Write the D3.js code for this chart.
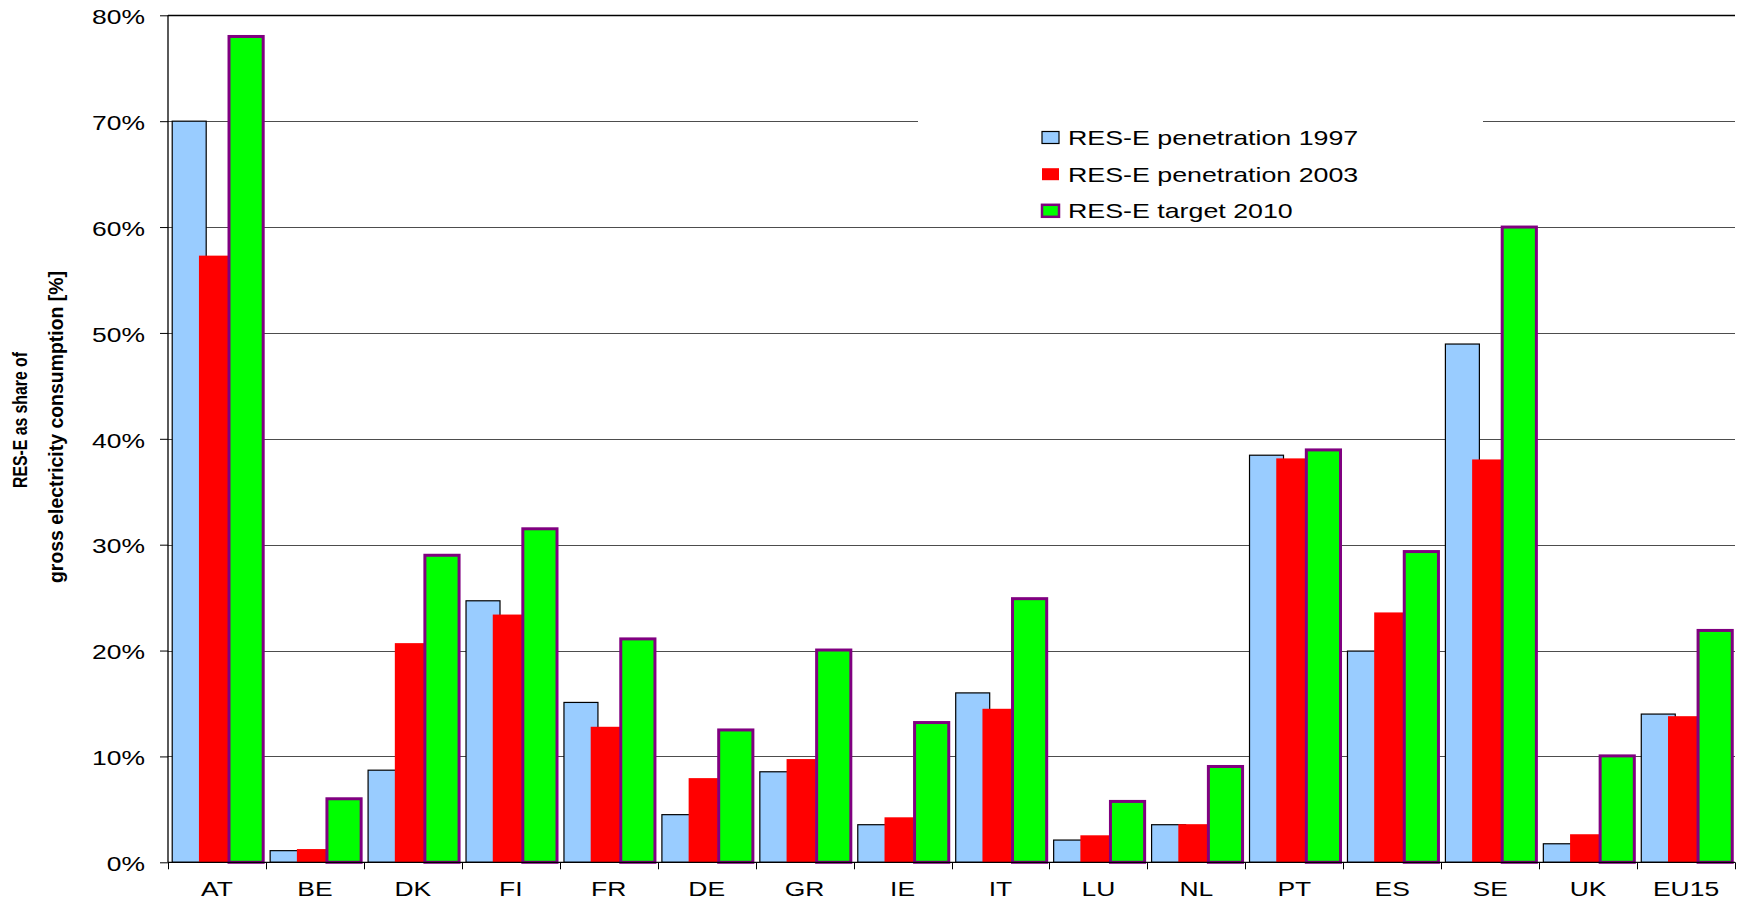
<!DOCTYPE html>
<html>
<head>
<meta charset="utf-8">
<script src="https://cdn.jsdelivr.net/npm/d3@7"></script>
<style>
  html, body { margin: 0; padding: 0; background: #fff; }
  svg { display: block; font-family: "Liberation Sans", Arial, sans-serif; }
</style>
</head>
<body>
<svg id="chart" width="1738" height="903"></svg>
<script>
// ---- data ----
const categories = ["AT","BE","DK","FI","FR","DE","GR","IE","IT","LU","NL","PT","ES","SE","UK","EU15"];
const penetration1997 = [70.0, 1.1, 8.7, 24.7, 15.1, 4.5, 8.55, 3.55, 16.0, 2.1, 3.55, 38.45, 19.95, 48.95, 1.75, 14.0];
const penetration2003 = [57.3, 1.25, 20.7, 23.4, 12.8, 7.95, 9.75, 4.25, 14.5, 2.55, 3.6, 38.15, 23.6, 38.05, 2.65, 13.8];
const target2010      = [78.0, 6.0, 29.0, 31.5, 21.1, 12.5, 20.05, 13.2, 24.9, 5.75, 9.05, 38.95, 29.35, 60.0, 10.05, 21.9];
const seriesNames = ["RES-E penetration 1997", "RES-E penetration 2003", "RES-E target 2010"];
const yTicks = [0, 10, 20, 30, 40, 50, 60, 70, 80];
const yTitle = ["RES-E as share of", "gross electricity consumption [%]"];

(function () {
// ---- styles ----
const styles = [
  { fill: "#99ccff", stroke: "#000000", sw: 1.2, x: 0.043, w: 0.347 },
  { fill: "#ff0000", stroke: "none",    sw: 0,   x: 0.316, w: 0.299 },
  { fill: "#00ff00", stroke: "#800080", sw: 3,   x: 0.623, w: 0.349 }
];
const seriesValues = [penetration1997, penetration2003, target2010];
const textStretch = 1.29;

function stretch(sel, k) {
  sel.each(function () {
    const l = this.getComputedTextLength();
    d3.select(this).attr("textLength", l * k).attr("lengthAdjust", "spacingAndGlyphs");
  });
}

const svg = d3.select("#chart");
const pLeft = 168, pRight = 1735, pTop = 15.3, pBottom = 862.3;

const x = d3.scaleBand().domain(categories).range([pLeft, pRight]).padding(0);
const y = d3.scaleLinear().domain([0, 80]).range([pBottom, pTop]);

// gridlines
const grid = svg.append("g");
grid.selectAll("line").data(yTicks.filter(t => t > 0)).join("line")
  .attr("x1", pLeft).attr("x2", pRight)
  .attr("y1", d => Math.round(y(d)) + 0.5).attr("y2", d => Math.round(y(d)) + 0.5)
  .attr("stroke", d => d === 80 ? "#000" : "#4d4d4d")
  .attr("stroke-width", d => d === 80 ? 1.4 : 1.1);

// legend background (covers gridline)
const legendBox = { x: 918, y: 104, w: 565, h: 121 };
svg.append("rect").attr("x", legendBox.x).attr("y", legendBox.y)
  .attr("width", legendBox.w).attr("height", legendBox.h).attr("fill", "#fff");

// bars
const bw = x.bandwidth();
seriesValues.forEach((vals, si) => {
  const st = styles[si];
  svg.append("g").selectAll("rect").data(categories.map((c, i) => ({ c, v: vals[i] }))).join("rect")
    .attr("x", d => x(d.c) + st.x * bw)
    .attr("width", st.w * bw)
    .attr("y", d => y(d.v))
    .attr("height", d => y(0) - y(d.v))
    .attr("fill", st.fill)
    .attr("stroke", st.stroke)
    .attr("stroke-width", st.sw);
});

// y axis
const yAxis = d3.axisLeft(y).tickValues(yTicks).tickSize(8).tickPadding(15)
  .tickFormat(d => d + "%");
const gy = svg.append("g").attr("transform", `translate(${pLeft},0)`).call(yAxis);
gy.select(".domain").attr("stroke", "#000").attr("stroke-width", 1.3).attr("d", `M0,${pTop}V${pBottom}`);
gy.selectAll(".tick line").attr("stroke", "#000");
gy.selectAll(".tick text").attr("font-size", "20.5px").attr("fill", "#000")
  .attr("font-family", "Liberation Sans, Arial, sans-serif").attr("dy", "0.4em")
  .call(stretch, textStretch);

// x axis
const xAxis = d3.axisBottom(x).tickSize(0).tickPadding(22);
const gx = svg.append("g").attr("transform", `translate(0,${pBottom})`).call(xAxis);
gx.select(".domain").attr("stroke", "#000").attr("stroke-width", 1.3).attr("d", `M${pLeft},0H${pRight}`);
gx.selectAll(".tick text").attr("font-size", "20.5px").attr("fill", "#000")
  .attr("font-family", "Liberation Sans, Arial, sans-serif").attr("dy", "0.55em")
  .call(stretch, textStretch);
// category boundary ticks
const bounds = categories.map(c => x(c)).concat([pRight]);
svg.append("g").selectAll("line").data(bounds).join("line")
  .attr("x1", d => Math.round(d) + 0.5).attr("x2", d => Math.round(d) + 0.5)
  .attr("y1", pBottom).attr("y2", pBottom + 7)
  .attr("stroke", "#000").attr("stroke-width", 1);

// y title
svg.append("text")
  .attr("transform", "translate(27,420) rotate(-90)")
  .attr("text-anchor", "middle")
  .attr("font-size", "21px").attr("font-weight", "bold")
  .attr("textLength", 136).attr("lengthAdjust", "spacingAndGlyphs")
  .text(yTitle[0]);
svg.append("text")
  .attr("transform", "translate(63,427) rotate(-90)")
  .attr("text-anchor", "middle")
  .attr("font-size", "21px").attr("font-weight", "bold")
  .attr("textLength", 312).attr("lengthAdjust", "spacingAndGlyphs")
  .text(yTitle[1]);

// legend
const legend = svg.append("g");
const rowY = [138, 174.7, 211.3];
seriesNames.forEach((name, i) => {
  const st = styles[i];
  const sw = i === 2 ? 2.5 : (i === 0 ? 1.2 : 0);
  legend.append("rect")
    .attr("x", 1042).attr("y", rowY[i] - 6.5)
    .attr("width", 17).attr("height", 12)
    .attr("fill", st.fill).attr("stroke", st.stroke).attr("stroke-width", sw);
  legend.append("text")
    .attr("x", 1068).attr("y", rowY[i] + 7)
    .attr("font-size", "21px").attr("fill", "#000")
    .text(name)
    .call(stretch, 1.275);
});
})();
</script>
</body>
</html>
